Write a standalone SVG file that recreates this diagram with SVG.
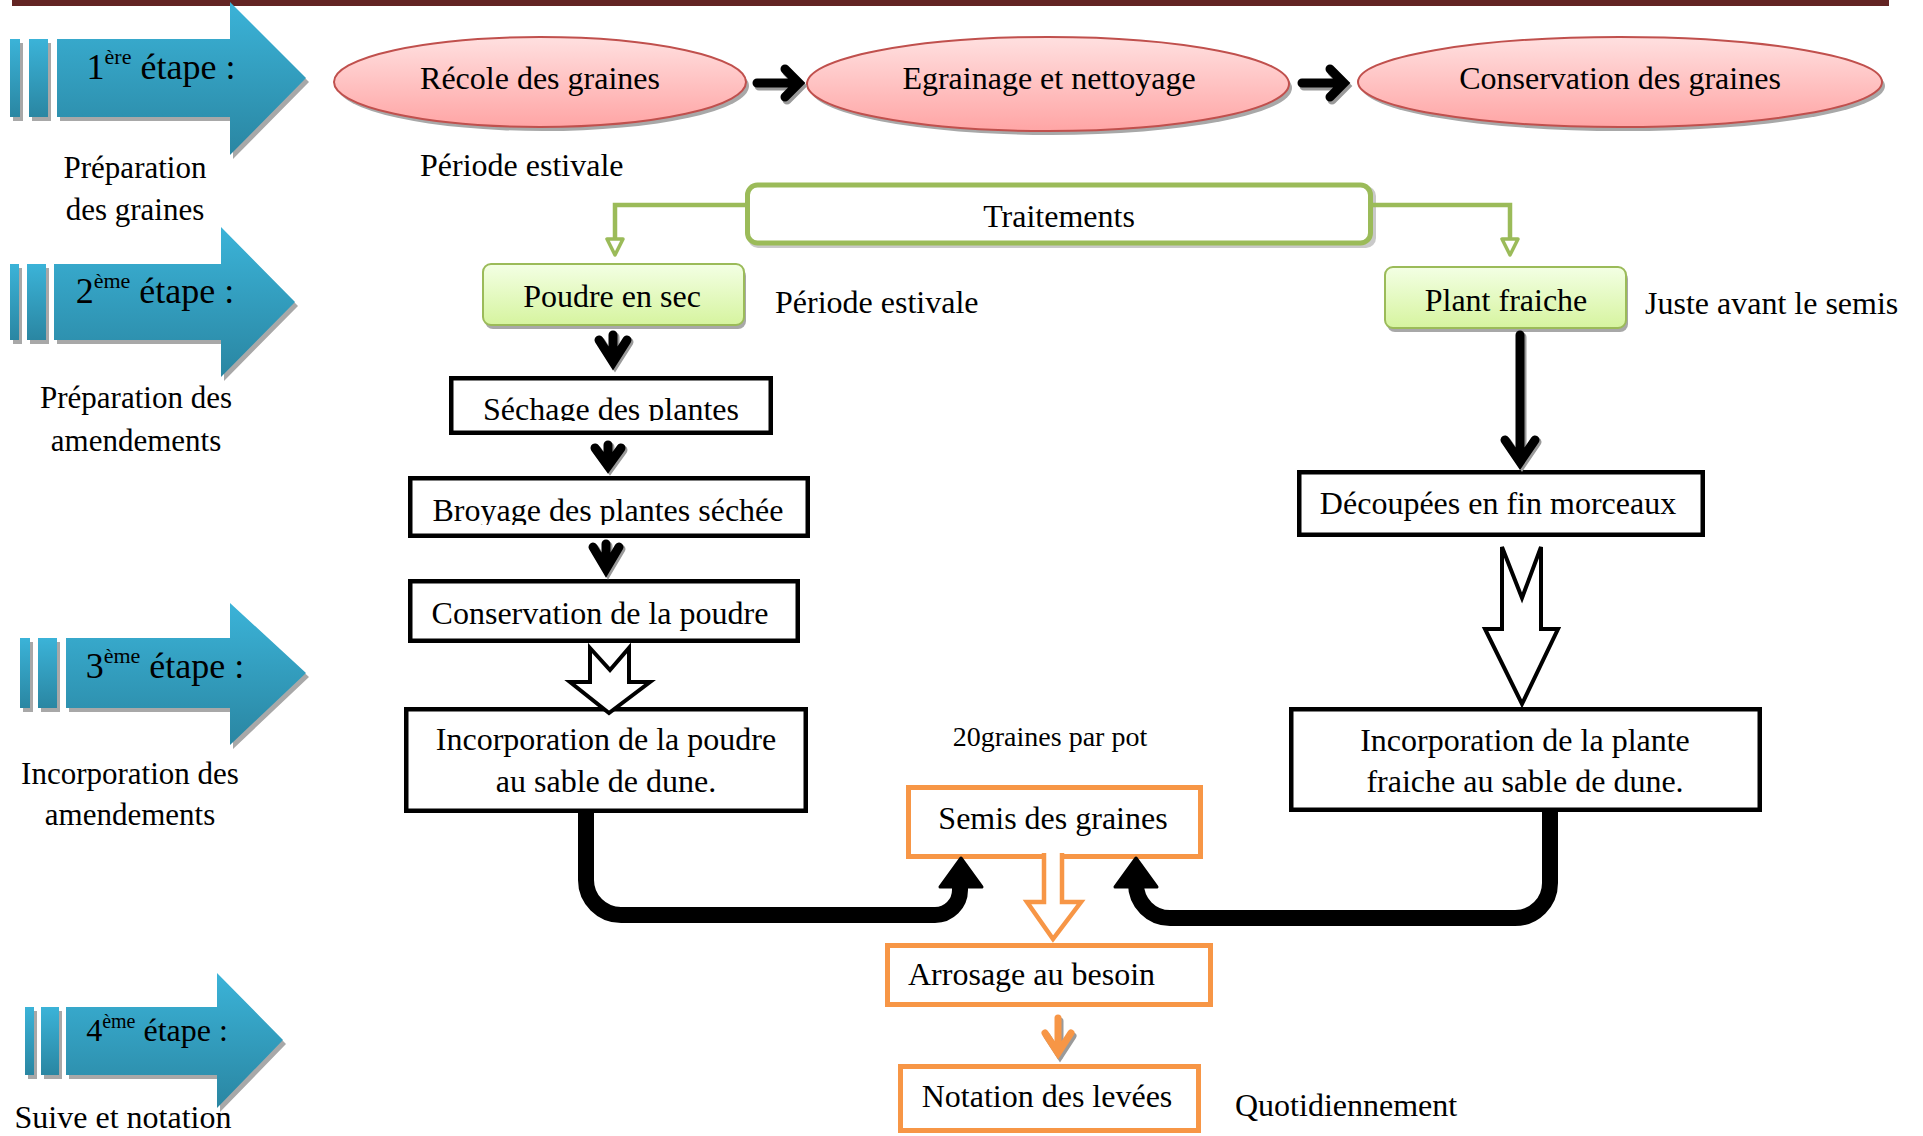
<svg xmlns="http://www.w3.org/2000/svg" width="1923" height="1136" viewBox="0 0 1923 1136">
<defs>
<linearGradient id="gStage" x1="0" y1="0" x2="0" y2="1"><stop offset="0" stop-color="#3bb3d8"/><stop offset="1" stop-color="#2a86a2"/></linearGradient>
<linearGradient id="gPink" x1="0" y1="0" x2="0" y2="1"><stop offset="0" stop-color="#ffe0e0"/><stop offset="1" stop-color="#ffa5a5"/></linearGradient>
<linearGradient id="gGreen" x1="0" y1="0" x2="0" y2="1"><stop offset="0" stop-color="#f3ffe4"/><stop offset="1" stop-color="#d6f49f"/></linearGradient>
<clipPath id="clipSech"><rect x="440" y="370" width="340" height="51"/></clipPath>
<clipPath id="clipBroy"><rect x="400" y="470" width="420" height="55"/></clipPath>
</defs>
<style>
text{font-family:"Liberation Serif","Times New Roman",serif;fill:#000}
.t32{font-size:32px}
.t31{font-size:31px}
.t28{font-size:28px}
.stg{font-size:36px}
.shadow{fill:#a8a8a8}
.stage{fill:url(#gStage)}
.ell{fill:url(#gPink);stroke:#c0504d;stroke-width:2}
.gbox{fill:url(#gGreen);stroke:#9bbb59;stroke-width:2}
.bbox{fill:#fff;stroke:#000;stroke-width:4.5}
.obox{fill:#fff;stroke:#f79646;stroke-width:5}
.green{fill:none;stroke:#9bbb59;stroke-width:4.5}
.chev{fill:none;stroke:#000;stroke-width:9;stroke-linecap:round;stroke-linejoin:miter;stroke-miterlimit:10}
.chevS{fill:none;stroke:#9a9a9a;stroke-width:9;stroke-linecap:round;stroke-linejoin:miter;stroke-miterlimit:10}
.thick{fill:none;stroke:#000;stroke-width:16}
</style>
<rect x="12" y="0" width="1877" height="6" fill="#632423"/>

<g id="stage1">
<g class="shadow" transform="translate(3,4)"><rect x="10" y="39" width="10" height="78"/><rect x="29" y="39" width="19" height="78"/><path d="M57,39 H230 V2 L306,78 L230,155 V117 H57 Z"/></g>
<rect class="stage" x="10" y="39" width="10" height="78"/><rect class="stage" x="29" y="39" width="19" height="78"/>
<path class="stage" d="M57,39 H230 V2 L306,78 L230,155 V117 H57 Z"/>
<text class="stg" x="161" y="79" text-anchor="middle">1<tspan font-size="22" dy="-15">ère</tspan><tspan dy="15"> étape :</tspan></text>
<text class="t31" x="135" y="178" text-anchor="middle">Préparation</text>
<text class="t31" x="135" y="220" text-anchor="middle">des graines</text>
</g>

<g id="stage2">
<g class="shadow" transform="translate(3,4)"><rect x="10" y="264" width="9" height="76"/><rect x="27" y="264" width="19" height="76"/><path d="M54,264 H221 V227 L295,302 L221,377 V340 H54 Z"/></g>
<rect class="stage" x="10" y="264" width="9" height="76"/><rect class="stage" x="27" y="264" width="19" height="76"/>
<path class="stage" d="M54,264 H221 V227 L295,302 L221,377 V340 H54 Z"/>
<text class="stg" x="155" y="303" text-anchor="middle">2<tspan font-size="22" dy="-15">ème</tspan><tspan dy="15"> étape :</tspan></text>
<text class="t31" x="136" y="408" text-anchor="middle">Préparation des</text>
<text class="t31" x="136" y="451" text-anchor="middle">amendements</text>
</g>

<g id="stage3">
<g class="shadow" transform="translate(3,4)"><rect x="20" y="638" width="10" height="70"/><rect x="38" y="638" width="19" height="70"/><path d="M66,638 H230 V603 L306,673 L230,745 V708 H66 Z"/></g>
<rect class="stage" x="20" y="638" width="10" height="70"/><rect class="stage" x="38" y="638" width="19" height="70"/>
<path class="stage" d="M66,638 H230 V603 L306,673 L230,745 V708 H66 Z"/>
<text class="stg" x="165" y="678" text-anchor="middle">3<tspan font-size="22" dy="-15">ème</tspan><tspan dy="15"> étape :</tspan></text>
<text class="t31" x="130" y="784" text-anchor="middle">Incorporation des</text>
<text class="t31" x="130" y="825" text-anchor="middle">amendements</text>
</g>

<g id="stage4">
<g class="shadow" transform="translate(3,4)"><rect x="25" y="1007" width="9" height="68"/><rect x="41" y="1007" width="18" height="68"/><path d="M66,1007 H217 V973 L283,1040 L217,1108 V1075 H66 Z"/></g>
<rect class="stage" x="25" y="1007" width="9" height="68"/><rect class="stage" x="41" y="1007" width="18" height="68"/>
<path class="stage" d="M66,1007 H217 V973 L283,1040 L217,1108 V1075 H66 Z"/>
<text x="157" y="1041" font-size="32" text-anchor="middle">4<tspan font-size="20" dy="-13">ème</tspan><tspan dy="13"> étape :</tspan></text>
<text class="t32" x="123" y="1128" text-anchor="middle">Suive et notation</text>
</g>

<g id="n-recole">
<ellipse class="shadow" cx="543" cy="86" rx="206" ry="45"/>
<ellipse class="ell" cx="540" cy="82" rx="206" ry="45"/>
<text class="t32" x="540" y="89" text-anchor="middle">Récole des graines</text>
</g>
<g id="n-egrainage">
<ellipse class="shadow" cx="1051" cy="88" rx="241" ry="47"/>
<ellipse class="ell" cx="1048" cy="84" rx="241" ry="47"/>
<text class="t32" x="1049" y="89" text-anchor="middle">Egrainage et nettoyage</text>
</g>
<g id="n-conservation-graines">
<ellipse class="shadow" cx="1623" cy="86" rx="262" ry="45"/>
<ellipse class="ell" cx="1620" cy="82" rx="262" ry="45"/>
<text class="t32" x="1620" y="89" text-anchor="middle">Conservation des graines</text>
</g>
<g id="lbl-periode1"><text class="t32" x="420" y="176">Période estivale</text></g>

<g id="n-traitements">
<rect x="748" y="186" width="628" height="62" rx="10" fill="#c9c9c9"/>
<rect x="747.5" y="185" width="623" height="58" rx="10" fill="#fff" stroke="#9bbb59" stroke-width="5"/>
<text class="t32" x="1059" y="227" text-anchor="middle">Traitements</text>
</g>

<g id="n-poudre">
<rect class="shadow" x="485" y="268" width="261" height="61" rx="8"/>
<rect class="gbox" x="483" y="264" width="261" height="61" rx="8"/>
<text class="t32" x="612" y="307" text-anchor="middle">Poudre en sec</text>
</g>
<g id="lbl-periode2"><text class="t32" x="775" y="313">Période estivale</text></g>

<g id="n-plant">
<rect class="shadow" x="1387" y="271" width="241" height="61" rx="8"/>
<rect class="gbox" x="1385" y="267" width="241" height="61" rx="8"/>
<text class="t32" x="1506" y="311" text-anchor="middle">Plant fraiche</text>
</g>
<g id="lbl-juste"><text class="t32" x="1645" y="314">Juste avant le semis</text></g>

<g id="n-sechage">
<rect class="bbox" x="451.25" y="378.25" width="319.5" height="54.5"/>
<text class="t32" x="611" y="420" text-anchor="middle" clip-path="url(#clipSech)">Séchage des plantes</text>
</g>
<g id="n-broyage">
<rect class="bbox" x="410.25" y="478.25" width="397.5" height="57.5"/>
<text class="t32" x="608" y="521" text-anchor="middle" clip-path="url(#clipBroy)">Broyage des plantes séchée</text>
</g>
<g id="n-conservation-poudre">
<rect class="bbox" x="410.25" y="581.25" width="387.5" height="59.5"/>
<text class="t32" x="600" y="624" text-anchor="middle">Conservation de la poudre</text>
</g>
<g id="n-incorp-poudre">
<rect class="bbox" x="406.25" y="709.25" width="399.5" height="101.5"/>
<text class="t32" x="606" y="750" text-anchor="middle">Incorporation de la poudre</text>
<text class="t32" x="606" y="792" text-anchor="middle">au sable de dune.</text>
</g>
<g id="n-decoupees">
<rect class="bbox" x="1299.25" y="472.25" width="403.5" height="62.5"/>
<text class="t32" x="1498" y="514" text-anchor="middle">Découpées en fin morceaux</text>
</g>
<g id="n-incorp-plante">
<rect class="bbox" x="1291.25" y="709.25" width="468.5" height="100.5"/>
<text class="t32" x="1525" y="751" text-anchor="middle">Incorporation de la plante</text>
<text class="t32" x="1525" y="792" text-anchor="middle">fraiche au sable de dune.</text>
</g>

<g id="lbl-20graines"><text class="t28" x="1050" y="746" text-anchor="middle">20graines par pot</text></g>
<g id="n-semis">
<rect class="obox" x="908.5" y="787.5" width="292" height="69"/>
<text class="t32" x="1053" y="829" text-anchor="middle">Semis des graines</text>
</g>
<g id="n-arrosage">
<rect class="obox" x="887.5" y="945.5" width="323" height="59"/>
<text class="t32" x="908" y="985">Arrosage au besoin</text>
</g>
<g id="n-notation">
<rect class="obox" x="900.5" y="1066.5" width="298" height="64"/>
<text class="t32" x="1047" y="1107" text-anchor="middle">Notation des levées</text>
</g>
<g id="lbl-quotidien"><text class="t32" x="1235" y="1116">Quotidiennement</text></g>

<g id="connectors">
<g transform="translate(2,3)"><path class="chevS" d="M757,83 H797 M785,69 L799,83 L785,97"/><path class="chevS" d="M1302,83 H1342 M1330,69 L1344,83 L1330,97"/></g>
<path class="chev" d="M757,83 H797 M785,69 L799,83 L785,97"/>
<path class="chev" d="M1302,83 H1342 M1330,69 L1344,83 L1330,97"/>
<path class="green" d="M747,205 H615 V240"/>
<path d="M607,239 L623,239 L615,255 Z" fill="#fff" stroke="#9bbb59" stroke-width="3.5" stroke-linejoin="round"/>
<path class="green" d="M1371,205 H1510 V240"/>
<path d="M1502,239 L1518,239 L1510,255 Z" fill="#fff" stroke="#9bbb59" stroke-width="3.5" stroke-linejoin="round"/>
<g transform="translate(2,2)">
<path class="chevS" d="M613,335 V362 M599,340 L613,362 L627,340"/>
<path class="chevS" d="M608,445 V466 M595,448 L608,466 L621,448"/>
<path class="chevS" d="M606,544 V569 M593,547 L606,569 L619,547"/>
<path class="chevS" stroke-width="8" d="M1520,335 V460 M1505,440 L1520,462 L1535,440"/>
</g>
<path class="chev" d="M613,335 V362 M599,340 L613,362 L627,340"/>
<path class="chev" d="M608,445 V466 M595,448 L608,466 L621,448"/>
<path class="chev" d="M606,544 V569 M593,547 L606,569 L619,547"/>
<path class="chev" stroke-width="8" d="M1520,335 V460 M1505,440 L1520,462 L1535,440"/>
<path d="M590,648 L610,670 L629,648 V682 H650 L609,713 L570,682 H590 Z" fill="#fff" stroke="#000" stroke-width="4" stroke-linejoin="miter"/>
<path d="M1502,547 L1522,598 L1541,547 V629 H1558 L1522,704 L1485,629 H1502 Z" fill="#fff" stroke="#000" stroke-width="4" stroke-linejoin="miter"/>
<path class="thick" d="M586,813 V880 A35,35 0 0 0 621,915 H935 A25,25 0 0 0 960,890 V880"/>
<path d="M940,887 L961,858 L982,887 Z" fill="#000" stroke="#000" stroke-width="3" stroke-linejoin="round"/>
<path class="thick" d="M1550,812 V883 A35,35 0 0 1 1515,918 H1170 A34,34 0 0 1 1136,884 V880"/>
<path d="M1115,887 L1136,858 L1157,887 Z" fill="#000" stroke="#000" stroke-width="3" stroke-linejoin="round"/>
<path d="M1044,853 V902 H1027 L1053,939 L1081,902 H1062 V853" fill="#fff" stroke="#f79646" stroke-width="4.5" stroke-linejoin="miter"/>
<path d="M1059,1019 V1054 M1046,1034 L1059,1054 L1072,1034" fill="none" stroke="#9a9a9a" stroke-width="7" stroke-linecap="round" transform="translate(1,2)"/>
<path d="M1058,1018 V1053 M1045,1033 L1058,1053 L1071,1033" fill="none" stroke="#f79646" stroke-width="7" stroke-linecap="round"/>
</g>
</svg>
